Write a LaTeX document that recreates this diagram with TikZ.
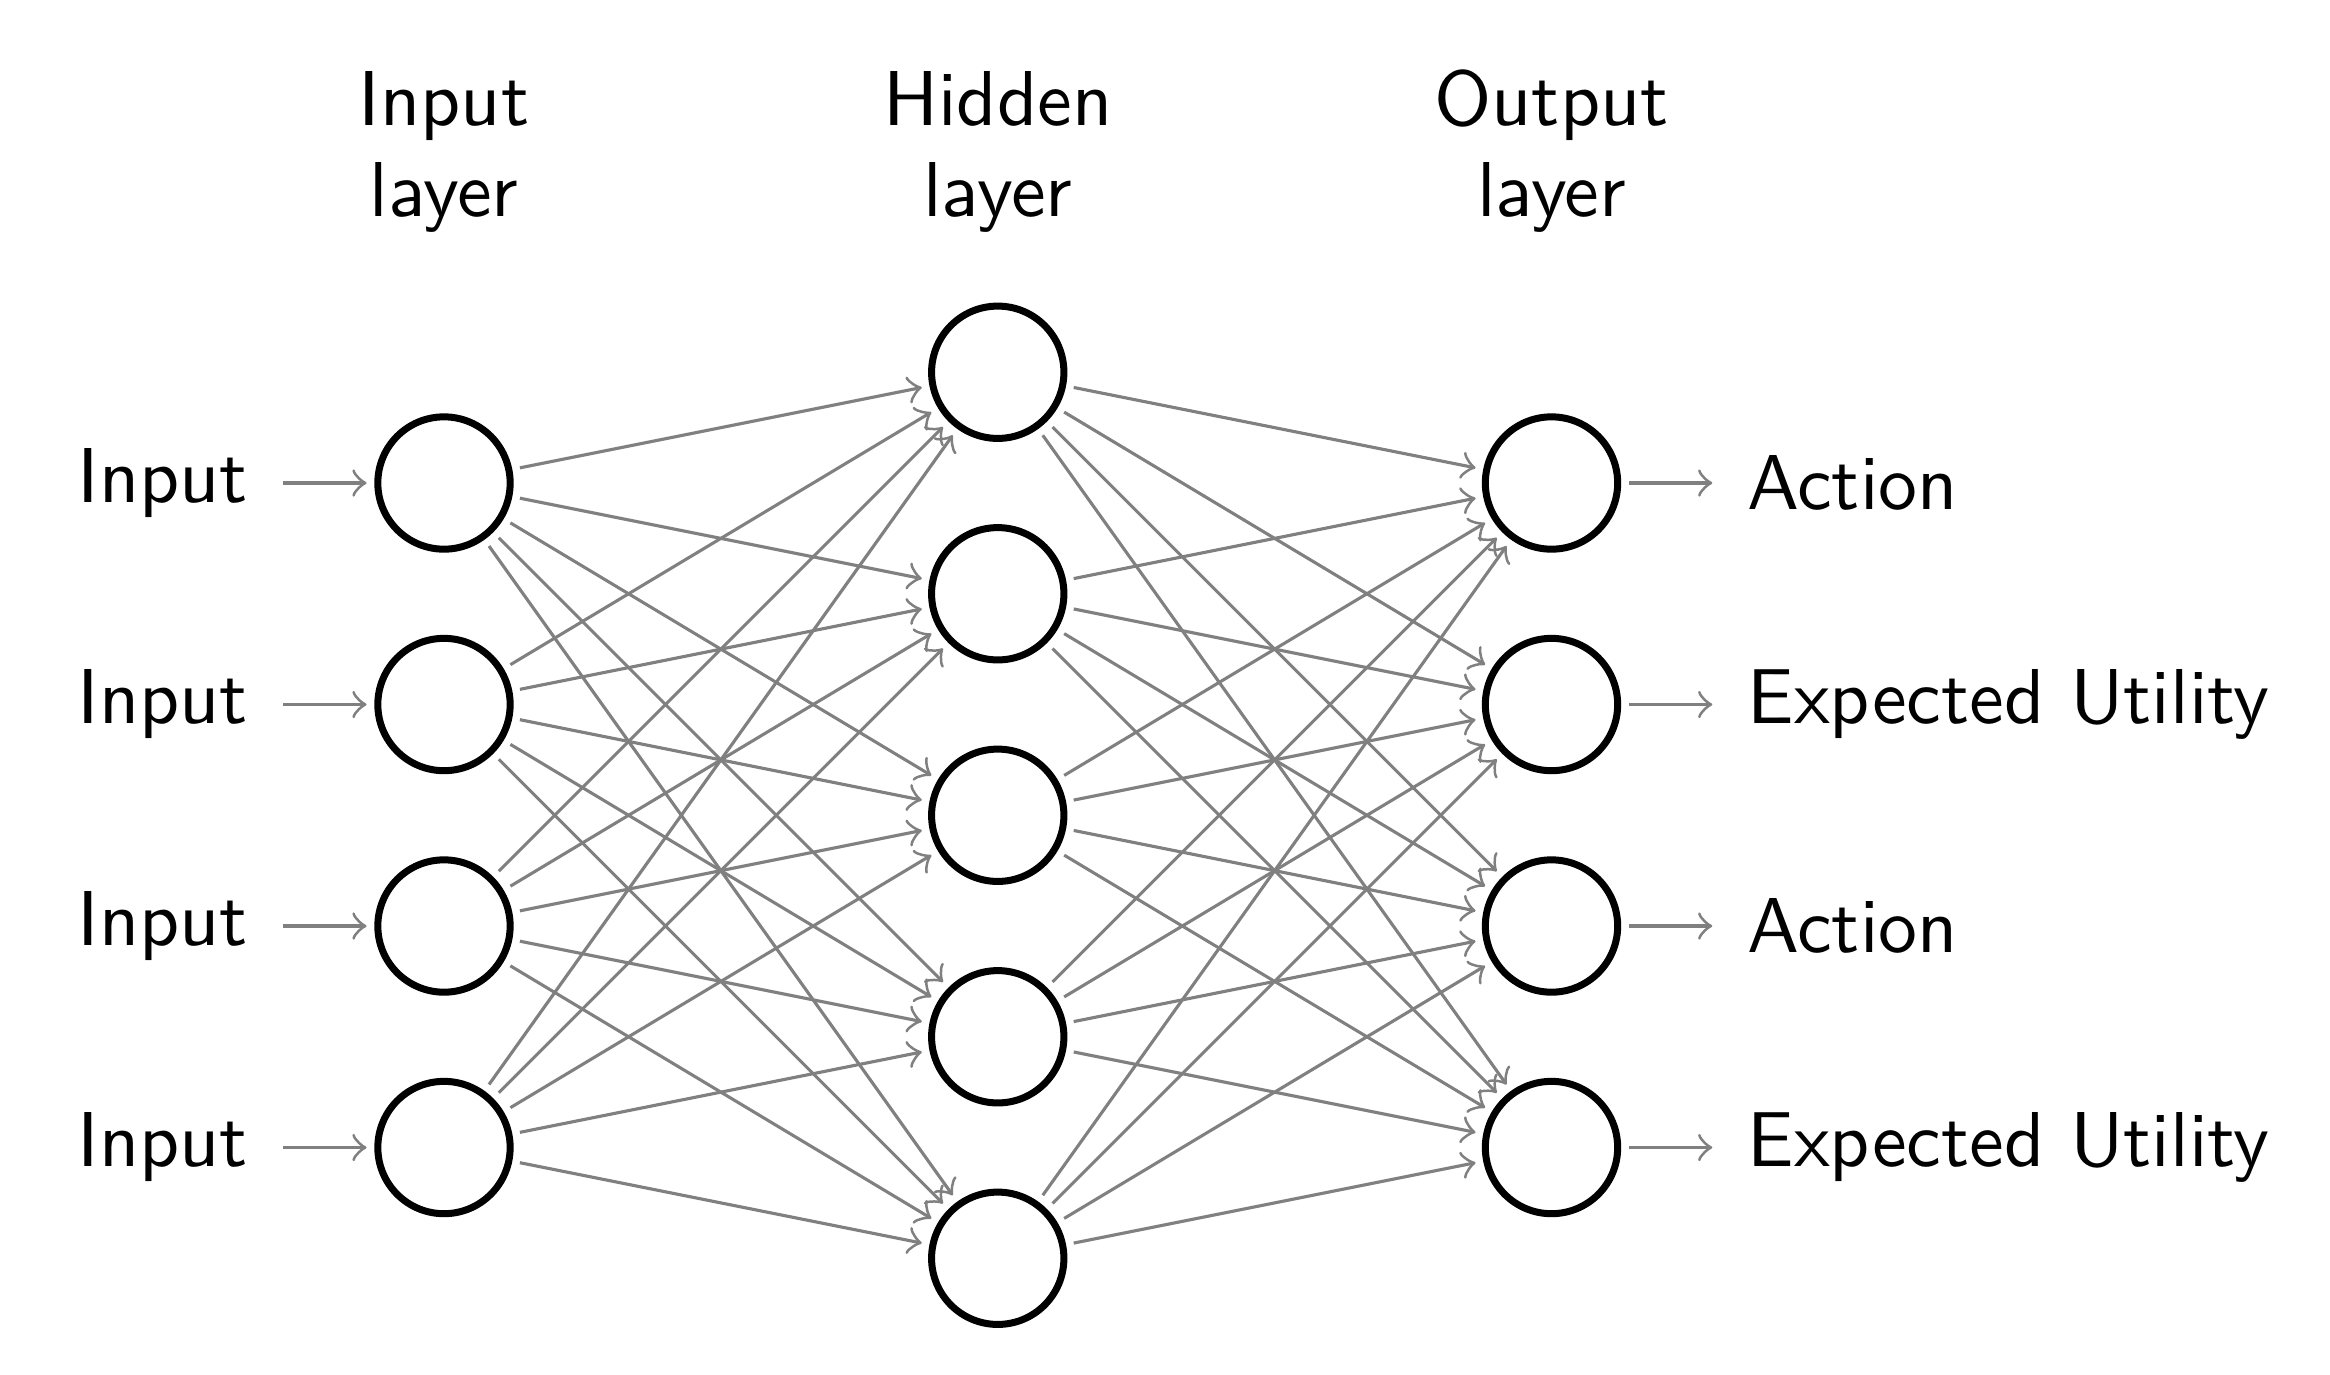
\documentclass[tikz,border=0pt]{standalone}
\usepackage{fontspec}
\usetikzlibrary{positioning}
\begin{document}
\begin{tikzpicture}[font=\sffamily]
\tikzset{
  neuron/.style={circle,draw=black,line width=0.9pt,minimum size=17pt,inner sep=0pt},
  conn/.style={->,draw=black!50,shorten >=1pt,shorten <=1pt},
  sidelabel/.style={text=black,inner sep=0.3333em},
  layerhead/.style={text=black,inner sep=0pt,anchor=base},
}
\useasboundingbox (-2.0045,1.1806) rectangle (8.5147,-5.0226);

% input layer
\foreach \y in {1,...,4}
  \node[neuron] (I-\y) at (0,-\y) {};
% hidden layer
\foreach \y in {1,...,5}
  \node[neuron] (H-\y) at (2.5,-\y+0.5) {};
% output layer
\foreach \y in {1,...,4}
  \node[neuron] (O-\y) at (5,-\y) {};

% labels on the input side
\foreach \y in {1,...,4} {
  \node[sidelabel,left=12.7pt of I-\y] (IL-\y) {Input};
  \draw[conn] (IL-\y) -- (I-\y);
}
% labels on the output side
\node[sidelabel,right=12.7pt of O-1] (OL-1) {Action};
\node[sidelabel,right=12.7pt of O-2] (OL-2) {Expected Utility};
\node[sidelabel,right=12.7pt of O-3] (OL-3) {Action};
\node[sidelabel,right=12.7pt of O-4] (OL-4) {Expected Utility};
\foreach \y in {1,...,4}
  \draw[conn] (O-\y) -- (OL-\y);

% connections between layers
\foreach \s in {1,...,4}
  \foreach \d in {1,...,5}
    \draw[conn] (I-\s) -- (H-\d);
\foreach \s in {1,...,5}
  \foreach \d in {1,...,4}
    \draw[conn] (H-\s) -- (O-\d);

% layer headings
\node[layerhead] (hi-a) at (0,0.616) {Input};
\node[layerhead] (hi-b) at (0,0.2023) {layer};
\node[layerhead] (hh-a) at (2.5,0.616) {Hidden};
\node[layerhead] (hh-b) at (2.5,0.2023) {layer};
\node[layerhead] (ho-a) at (5,0.616) {Output};
\node[layerhead] (ho-b) at (5,0.2023) {layer};
\end{tikzpicture}
\end{document}
